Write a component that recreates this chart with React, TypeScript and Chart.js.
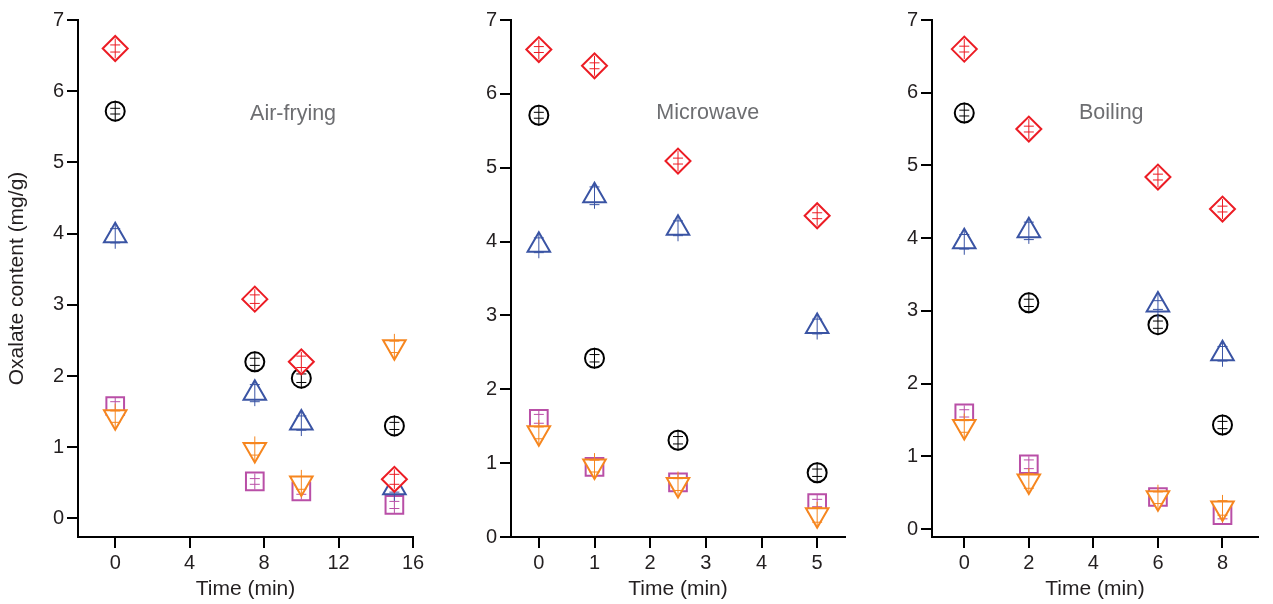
import React, { useEffect, useRef } from 'react';
import { Chart, registerables } from 'chart.js';

Chart.register(...registerables);

// ---------- data ----------
const airTimes = [0, 7.5, 10, 15];
const microTimes = [0, 1, 2.5, 5];
const boilTimes = [0, 2, 6, 8];

const airTicksX = [0, 4, 8, 12, 16];
const microTicksX = [0, 1, 2, 3, 4, 5];
const boilTicksX = [0, 2, 4, 6, 8];
const yTicks = [0, 1, 2, 3, 4, 5, 6, 7];

// Air-frying
const airRed = [6.6, 3.08, 2.2, 0.55];
const airBlack = [5.72, 2.2, 1.97, 1.3];
const airBlue = [3.97, 1.76, 1.34, 0.43];
const airMagenta = [1.58, 0.52, 0.38, 0.19];
const airOrange = [1.43, 0.97, 0.5, 2.41];
const airRedErr = [0.05, 0.06, 0.08, 0.07];
const airBlackErr = [0.04, 0.05, 0.06, 0.05];
const airBlueErr = [0.1, 0.12, 0.1, 0.06];
const airMagentaErr = [0.06, 0.04, 0.04, 0.05];
const airOrangeErr = [0.08, 0.08, 0.09, 0.08];

// Microwave
const microRed = [6.6, 6.38, 5.09, 4.35];
const microBlack = [5.71, 2.42, 1.31, 0.87];
const microBlue = [3.95, 4.62, 4.18, 2.85];
const microMagenta = [1.6, 0.95, 0.74, 0.46];
const microOrange = [1.41, 0.96, 0.71, 0.3];
const microRedErr = [0.04, 0.04, 0.04, 0.04];
const microBlackErr = [0.04, 0.05, 0.05, 0.05];
const microBlueErr = [0.1, 0.12, 0.1, 0.1];
const microMagentaErr = [0.06, 0.05, 0.04, 0.05];
const microOrangeErr = [0.08, 0.08, 0.08, 0.1];

// Boiling
const boilRed = [6.6, 5.5, 4.84, 4.4];
const boilBlack = [5.72, 3.11, 2.81, 1.43];
const boilBlue = [3.95, 4.1, 3.08, 2.41];
const boilMagenta = [1.59, 0.89, 0.44, 0.19];
const boilOrange = [1.41, 0.66, 0.43, 0.29];
const boilRedErr = [0.04, 0.04, 0.04, 0.04];
const boilBlackErr = [0.04, 0.05, 0.05, 0.05];
const boilBlueErr = [0.1, 0.12, 0.06, 0.1];
const boilMagentaErr = [0.05, 0.06, 0.05, 0.05];
const boilOrangeErr = [0.08, 0.1, 0.08, 0.1];

// ---------- styles ----------
const FONT = '"Liberation Sans", Arial, Helvetica, sans-serif';
const RED = '#EC1C24';
const BLACK = '#000000';
const BLUE = '#3A54A4';
const MAGENTA = '#B94FA7';
const ORANGE = '#F6861F';
const TEXT = '#231F20';

const toPts = (xs: number[], ys: number[]) => xs.map((x, i) => ({ x, y: ys[i] }));

function makeDatasets(
  xs: number[],
  red: number[], black: number[], blue: number[], magenta: number[], orange: number[],
  redE: number[], blackE: number[], blueE: number[], magentaE: number[], orangeE: number[]
) {
  const base = { showLine: false, pointBorderWidth: 2, pointBackgroundColor: '#ffffff' };
  // index 0 is drawn on top
  return [
    { ...base, label: 'red', data: toPts(xs, red), errors: redE, stem: 10, borderColor: RED, pointBorderColor: RED, pointStyle: 'rectRot', pointRadius: 12.5 },
    { ...base, label: 'blue', data: toPts(xs, blue), errors: blueE, stem: 13, borderColor: BLUE, pointBorderColor: BLUE, pointStyle: 'triangle', pointRadius: 13 },
    { ...base, label: 'orange', data: toPts(xs, orange), errors: orangeE, stem: 13, borderColor: ORANGE, pointBorderColor: ORANGE, pointStyle: 'triangle', pointRotation: 180, pointRadius: 13 },
    { ...base, label: 'black', data: toPts(xs, black), errors: blackE, stem: 10.5, borderColor: BLACK, pointBorderColor: BLACK, pointStyle: 'circle', pointRadius: 9.5 },
    { ...base, label: 'magenta', data: toPts(xs, magenta), errors: magentaE, stem: 8, borderColor: MAGENTA, pointBorderColor: MAGENTA, pointStyle: 'rect', pointRadius: 12.5 },
  ];
}

const errorBarPlugin = {
  id: 'errBars',
  afterDatasetDraw(chart: any, args: any) {
    const ds = chart.data.datasets[args.index];
    const meta = args.meta;
    const ys = chart.scales.y;
    const ctx = chart.ctx;
    ctx.save();
    ctx.strokeStyle = ds.borderColor;
    ctx.lineWidth = 1;
    const cap = 5;
    meta.data.forEach((pt: any, i: number) => {
      const v = ds.data[i].y;
      const e = ds.errors[i];
      const yTop = ys.getPixelForValue(v + e);
      const yBot = ys.getPixelForValue(v - e);
      ctx.beginPath();
      ctx.moveTo(pt.x, Math.min(yTop, pt.y - ds.stem));
      ctx.lineTo(pt.x, Math.max(yBot, pt.y + ds.stem));
      ctx.moveTo(pt.x - cap, yTop);
      ctx.lineTo(pt.x + cap, yTop);
      ctx.moveTo(pt.x - cap, yBot);
      ctx.lineTo(pt.x + cap, yBot);
      ctx.stroke();
    });
    ctx.restore();
  },
};

const panelLabelPlugin = {
  id: 'panelLabel',
  afterDraw(chart: any, _args: any, opts: any) {
    if (!opts || !opts.text) return;
    const { left, right, top, bottom } = chart.chartArea;
    const ctx = chart.ctx;
    ctx.save();
    ctx.fillStyle = '#6D6E71';
    ctx.font = `21.5px ${FONT}`;
    ctx.textAlign = 'center';
    ctx.textBaseline = 'middle';
    ctx.fillText(opts.text, left + opts.fx * (right - left), top + opts.fy * (bottom - top));
    ctx.restore();
  },
};

type PanelProps = {
  left: number;
  width: number;
  yWidth: number;
  padRight: number;
  xMin: number;
  xMax: number;
  yMin: number;
  xTicks: number[];
  datasets: any[];
  label: string;
  fx: number;
  fy: number;
  yTitle: boolean;
};

function Panel(p: PanelProps) {
  const ref = useRef<HTMLCanvasElement | null>(null);
  useEffect(() => {
    if (!ref.current) return;
    const chart = new Chart(ref.current, {
      type: 'scatter',
      data: { datasets: p.datasets },
      plugins: [errorBarPlugin, panelLabelPlugin],
      options: {
        animation: false,
        responsive: false,
        maintainAspectRatio: false,
        layout: { padding: { top: 20, right: p.padRight, left: 0, bottom: 0 } },
        plugins: {
          legend: { display: false },
          tooltip: { enabled: false },
          panelLabel: { text: p.label, fx: p.fx, fy: p.fy },
        } as any,
        scales: {
          x: {
            type: 'linear',
            min: p.xMin,
            max: p.xMax,
            afterBuildTicks: (s: any) => {
              s.ticks = p.xTicks.map((v) => ({ value: v }));
            },
            afterFit: (s: any) => {
              s.height = 67;
            },
            grid: { drawOnChartArea: false, drawTicks: true, tickLength: 11, tickWidth: 2, tickColor: '#000', color: '#000', lineWidth: 2 },
            border: { display: true, color: '#000', width: 2 },
            ticks: { color: TEXT, font: { family: FONT, size: 20 }, padding: 3, autoSkip: false, maxRotation: 0 },
            title: { display: true, text: 'Time (min)', color: TEXT, font: { family: FONT, size: 21 }, padding: { top: 0, bottom: 2 } },
          },
          y: {
            type: 'linear',
            min: p.yMin,
            max: 7,
            afterBuildTicks: (s: any) => {
              s.ticks = yTicks.map((v) => ({ value: v }));
            },
            afterFit: (s: any) => {
              s.width = p.yWidth;
            },
            grid: { drawOnChartArea: false, drawTicks: true, tickLength: 11, tickWidth: 2, tickColor: '#000', color: '#000', lineWidth: 2 },
            border: { display: true, color: '#000', width: 2 },
            ticks: { color: TEXT, font: { family: FONT, size: 20 }, padding: 3, autoSkip: false },
            title: { display: p.yTitle, text: 'Oxalate content (mg/g)', color: TEXT, font: { family: FONT, size: 21 }, padding: { top: 5, bottom: 0 } },
          },
        },
      } as any,
    });
    return () => chart.destroy();
  }, []);
  return (
    <canvas
      ref={ref}
      width={p.width}
      height={604}
      style={{ position: 'absolute', left: p.left, top: 0, width: p.width, height: 604 }}
    />
  );
}

export default function App() {
  return (
    <div style={{ position: 'absolute', left: 0, top: 0, width: 1273, height: 604, background: '#fff', overflow: 'hidden' }}>
      <Panel
        left={0} width={430} yWidth={78} padRight={17}
        xMin={-2} xMax={16} yMin={-0.26} xTicks={airTicksX}
        datasets={makeDatasets(airTimes, airRed, airBlack, airBlue, airMagenta, airOrange, airRedErr, airBlackErr, airBlueErr, airMagentaErr, airOrangeErr)}
        label="Air-frying" fx={0.642} fy={0.182} yTitle={true}
      />
      <Panel
        left={430} width={430} yWidth={81} padRight={13}
        xMin={-0.5} xMax={5.5} yMin={0} xTicks={microTicksX}
        datasets={makeDatasets(microTimes, microRed, microBlack, microBlue, microMagenta, microOrange, microRedErr, microBlackErr, microBlueErr, microMagentaErr, microOrangeErr)}
        label="Microwave" fx={0.589} fy={0.18} yTitle={false}
      />
      <Panel
        left={860} width={413} yWidth={72} padRight={0}
        xMin={-1} xMax={9.1} yMin={-0.11} xTicks={boilTicksX}
        datasets={makeDatasets(boilTimes, boilRed, boilBlack, boilBlue, boilMagenta, boilOrange, boilRedErr, boilBlackErr, boilBlueErr, boilMagentaErr, boilOrangeErr)}
        label="Boiling" fx={0.55} fy={0.18} yTitle={false}
      />
    </div>
  );
}
